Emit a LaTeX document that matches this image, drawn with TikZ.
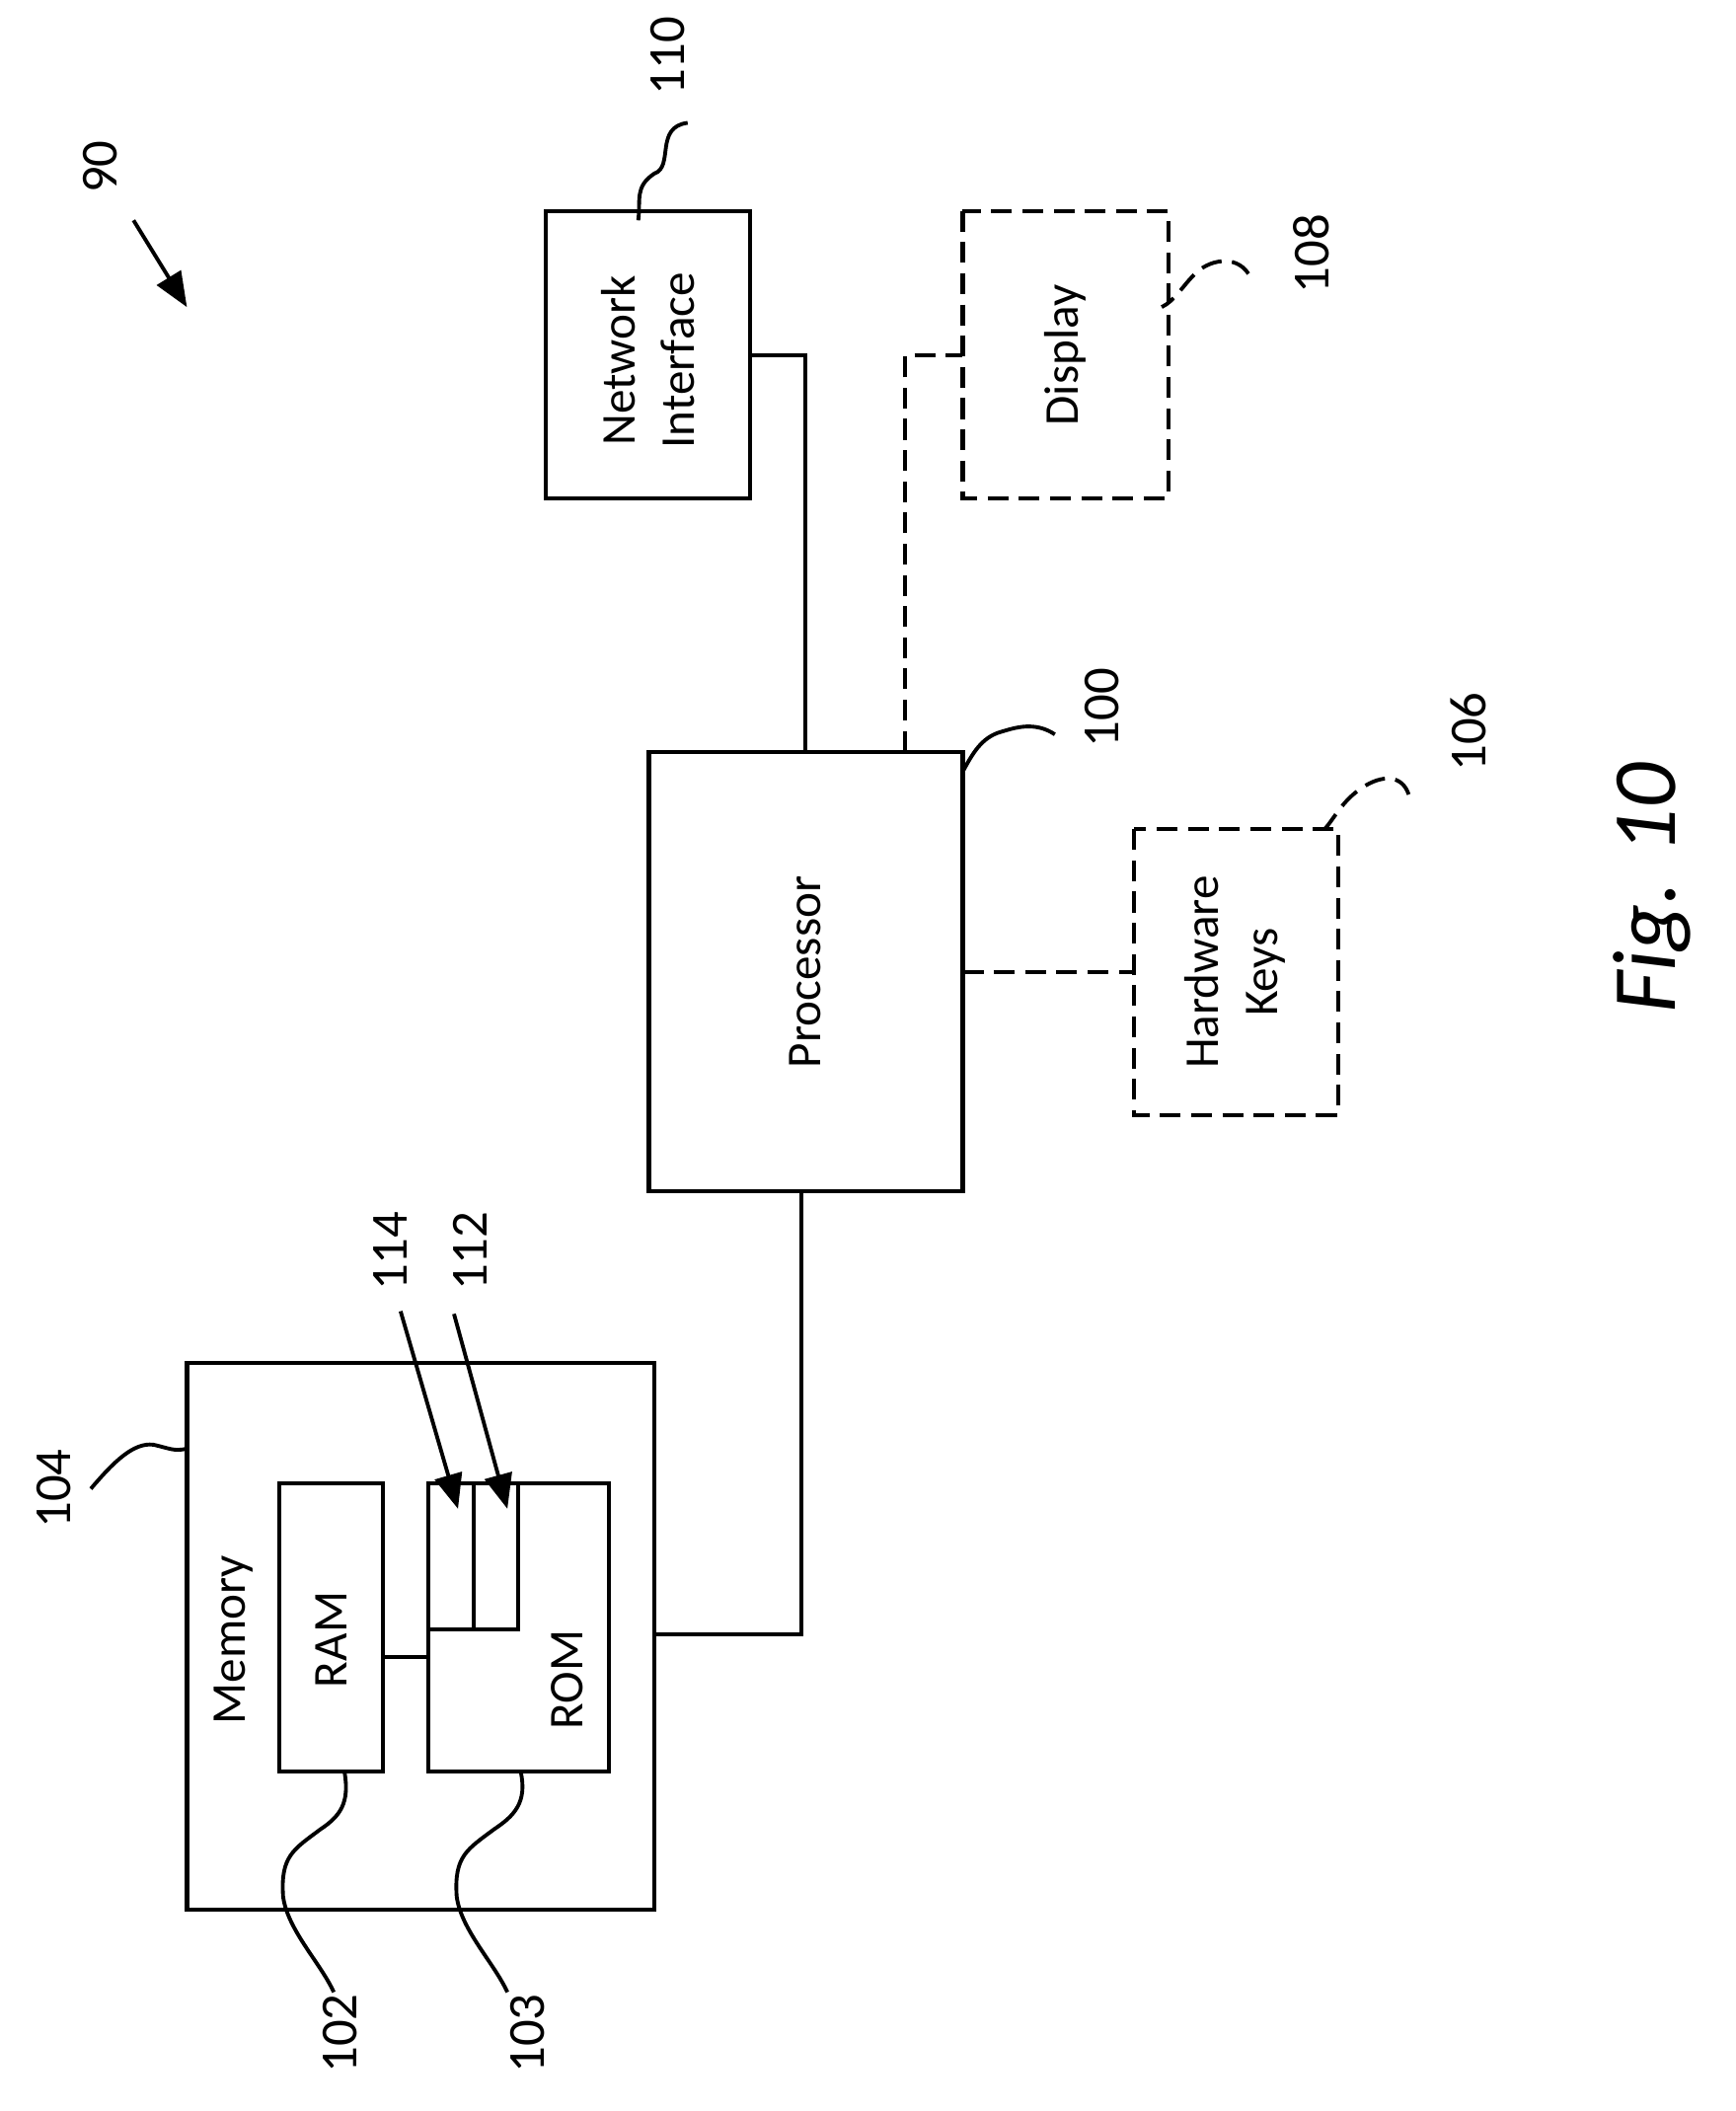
\documentclass[tikz,border=0pt]{standalone}
\usepackage{fontspec}
\setmainfont{Carlito}
\usetikzlibrary{arrows.meta}
\begin{document}
\begin{tikzpicture}[x=0.01353cm,y=-0.01353cm,line width=1.1pt,
  box/.style={draw,line width=1.2pt},
  dbox/.style={draw,line width=1.2pt,dash pattern=on 6pt off 3pt},
  lab/.style={rotate=90,font=\fontsize{14}{17}\selectfont,align=center},
  num/.style={rotate=90,font=\fontsize{15}{18}\selectfont},
  dsh/.style={dash pattern=on 6pt off 3pt},
  arr/.style={-{Triangle[length=10pt,width=8pt]}}]
\useasboundingbox (0,0) rectangle (1300,1581);
% boxes
\draw[box] (409,158) rectangle (562,373);
\node[lab] (ni) at (485.5,270) {Network\\Interface};
\draw[dbox] (721,158) rectangle (875,373);
\node[lab] (disp) at (798,266) {Display};
\draw[box] (486,563) rectangle (721,892);
\node[lab] (proc) at (603,728) {Processor};
\draw[dbox] (849,621) rectangle (1002,835);
\node[lab] (hk) at (925,728) {Hardware\\Keys};
\draw[box] (140,1021) rectangle (490,1430);
\node[lab] (mem) at (175,1228) {Memory};
\draw[box] (209,1111) rectangle (287,1327);
\node[lab] (ram) at (248,1228) {RAM};
\draw[box] (321,1111) rectangle (456,1327);
\node[lab] (rom) at (425,1258) {ROM};
\draw (355,1111) -- (355,1222);
\draw (388,1111) -- (388,1220) -- (321,1220);
% connectors
\coordinate (a1) at (287,1241); \coordinate (a2) at (321,1241);
\draw (a1) -- (a2);
\coordinate (m1) at (490,1224); \coordinate (p1) at (600,892);
\draw (m1) -| (p1);
\coordinate (p2) at (603,563); \coordinate (n1) at (562,266);
\draw (p2) |- (n1);
\coordinate (p3) at (678,563); \coordinate (d1) at (721,266);
\draw[dsh] (p3) |- (d1);
\coordinate (p4) at (721,728); \coordinate (h1) at (849,728);
\draw[dsh] (p4) -- (h1);
% reference numbers
\node[num] (n90) at (75,125) {90};
\coordinate (a90s) at (100,165); \coordinate (a90e) at (140,230);
\draw[arr] (a90s) -- (a90e);
\node[num] (n110) at (500,42) {110};
\draw (515,92) .. controls (490,95) and (505,125) .. (490,130) .. controls (475,140) and (480,150) .. (478,165);
\node[num] (n108) at (982,190) {108};
\draw[dsh] (935,205) .. controls (925,190) and (905,195) .. (895,205) .. controls (885,215) and (880,225) .. (870,230);
\node[num] (n100) at (825,530) {100};
\draw (790,550) .. controls (775,540) and (760,545) .. (750,548) .. controls (735,552) and (728,565) .. (721,578);
\node[num] (n106) at (1100,548) {106};
\draw[dsh] (1055,595) .. controls (1050,580) and (1035,580) .. (1020,590) .. controls (1005,600) and (1000,612) .. (992,621);
\node[num] (n104) at (40,1115) {104};
\draw (68,1115) .. controls (85,1095) and (100,1080) .. (115,1082) .. controls (128,1085) and (130,1087) .. (140,1085);
\node[num] (n102) at (255,1523) {102};
\draw (258,1327) .. controls (262,1350) and (255,1360) .. (240,1370) .. controls (220,1385) and (210,1390) .. (212,1420) .. controls (215,1445) and (240,1470) .. (250,1492);
\node[num] (n103) at (395,1523) {103};
\draw (390,1327) .. controls (395,1350) and (385,1360) .. (370,1370) .. controls (350,1385) and (340,1390) .. (342,1420) .. controls (345,1445) and (370,1470) .. (380,1492);
\node[num] (n114) at (292,937) {114};
\node[num] (n112) at (352,937) {112};
\coordinate (s114) at (300,982); \coordinate (e114) at (343,1130);
\coordinate (s112) at (340,984); \coordinate (e112) at (380,1130);
\draw[arr] (s114) -- (e114);
\draw[arr] (s112) -- (e112);
\node[rotate=90,font=\fontsize{26}{30}\selectfont\itshape] (fig) at (1237,665) {Fig. 10};
\end{tikzpicture}
\end{document}
